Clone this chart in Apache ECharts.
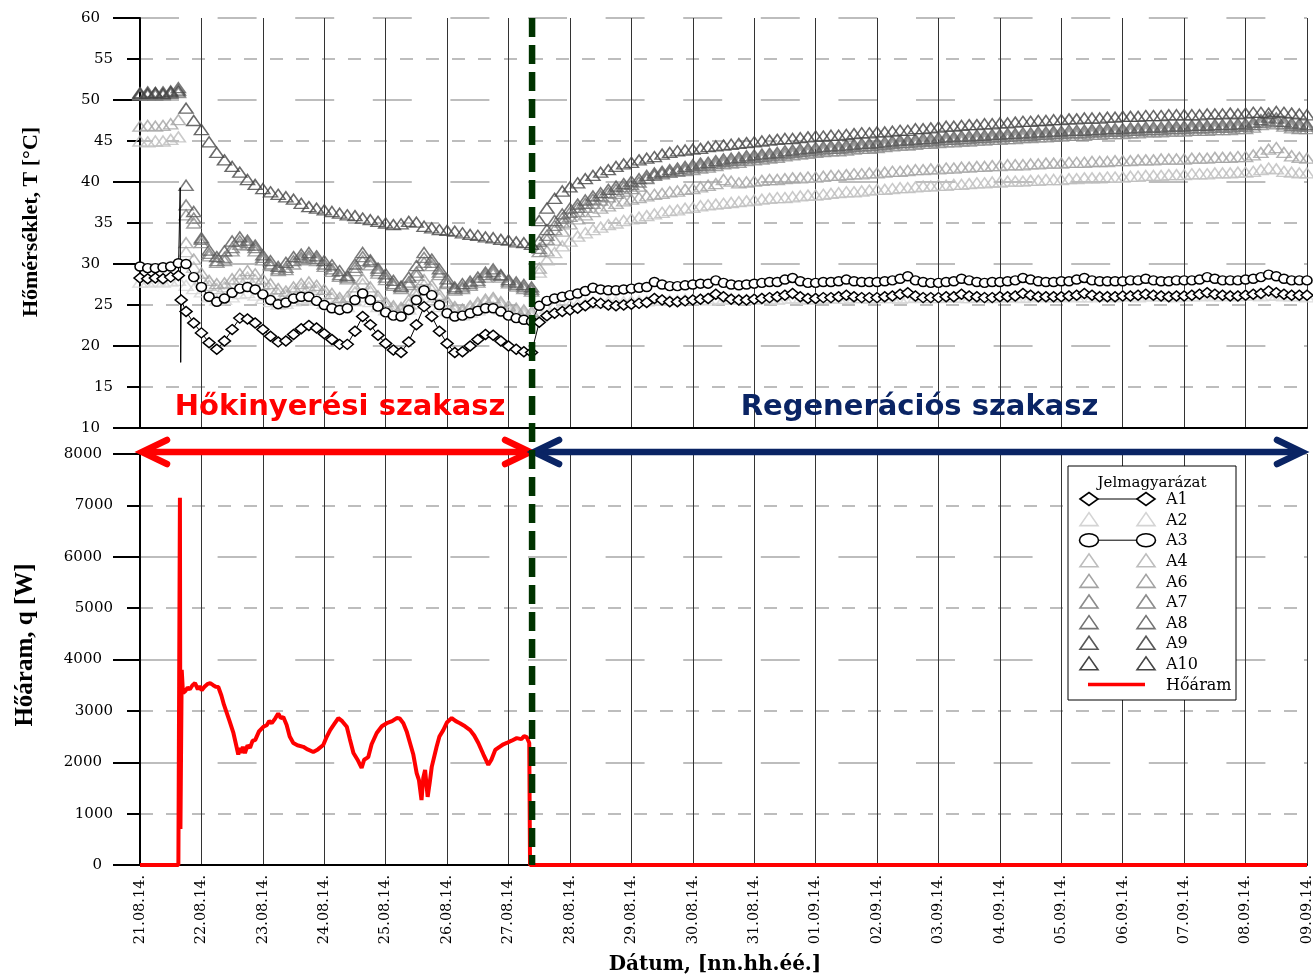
<!DOCTYPE html>
<html><head><meta charset="utf-8">
<script src="https://cdn.jsdelivr.net/npm/echarts/dist/echarts.min.js"></script>
<style>html,body{margin:0;padding:0;background:#fff}#c{width:1313px;height:977px}</style>
</head><body><div id="c"></div>
<script>
// ---------- tick labels ----------
const dateLabels = ['21.08.14.','22.08.14.','23.08.14.','24.08.14.','25.08.14.','26.08.14.','27.08.14.','28.08.14.','29.08.14.','30.08.14.','31.08.14.','01.09.14.','02.09.14.','03.09.14.','04.09.14.','05.09.14.','06.09.14.','07.09.14.','08.09.14.','09.09.14.'];

// ---------- sample times (hours from 21.08.14 00:00), one row per day ----------
const sampleHours = [
0,3,6,9,12,15,18,21,
24,27,30,33,36,39,42,45,
48,51,54,57,60,63,66,69,
72,75,78,81,84,87,90,93,
96,99,102,105,108,111,114,117,
120,123,126,129,132,135,138,141,
144,147,150,153,156,159,162,165,
168,171,174,177,180,183,186,189,
192,195,198,201,204,207,210,213,
216,219,222,225,228,231,234,237,
240,243,246,249,252,255,258,261,
264,267,270,273,276,279,282,285,
288,291,294,297,300,303,306,309,
312,315,318,321,324,327,330,333,
336,339,342,345,348,351,354,357,
360,363,366,369,372,375,378,381,
384,387,390,393,396,399,402,405,
408,411,414,417,420,423,426,429,
432,435,438,441,444,447,450,453,
456];

// ---------- temperature series [°C] ----------
const A1 = [
28.3,28.2,28.3,28.2,28.4,28.6,24.2,22.8,
21.6,20.4,19.6,20.6,22.0,23.4,23.3,22.8,
22.0,21.2,20.5,20.6,21.4,22.1,22.5,22.2,
21.5,20.8,20.2,20.2,21.8,23.6,22.6,21.3,
20.3,19.5,19.2,20.5,22.6,24.8,23.6,21.8,
20.3,19.2,19.3,20.0,20.8,21.4,21.3,20.6,
20.0,19.6,19.3,19.2,22.9,23.7,24.0,24.2,
24.4,24.6,24.9,25.3,25.2,25.0,24.9,25.0,
25.1,25.2,25.3,25.8,25.6,25.4,25.4,25.5,
25.6,25.7,25.8,26.3,26.0,25.7,25.6,25.6,
25.7,25.8,25.9,26.0,26.2,26.4,26.0,25.8,
25.8,25.9,25.9,26.0,26.2,26.0,25.9,25.9,
25.9,26.0,26.1,26.3,26.5,26.1,25.9,25.9,
25.9,26.0,26.0,26.3,26.1,26.0,25.9,25.9,
26.0,26.0,26.1,26.4,26.2,26.0,26.0,26.0,
26.0,26.1,26.2,26.4,26.2,26.0,26.0,26.0,
26.1,26.1,26.2,26.3,26.2,26.1,26.0,26.1,
26.1,26.2,26.3,26.5,26.3,26.2,26.1,26.1,
26.2,26.3,26.4,26.7,26.5,26.3,26.2,26.2,
26.2];
const A1_spikeHours = [15.7,15.9,16.1];
const A1_spikeValues = [39.3,18.0,25.6];

const A2 = [
27.8,27.8,27.9,27.8,27.9,28.0,27.4,27.0,
26.6,26.0,25.6,25.7,26.0,26.4,26.5,26.2,
25.8,25.4,25.1,25.2,25.5,25.8,25.9,25.6,
25.2,24.9,24.7,24.8,25.5,26.0,25.4,24.8,
24.4,24.1,24.0,24.5,25.2,26.0,25.5,24.8,
24.3,23.9,23.8,24.1,24.4,24.7,24.8,24.5,
24.2,24.0,23.8,23.6,24.2,24.6,24.9,25.0,
25.0,25.1,25.2,25.3,25.3,25.4,25.4,25.4,
25.5,25.5,25.5,25.6,25.6,25.6,25.6,25.7,
25.7,25.7,25.6,25.8,25.7,25.8,25.7,25.7,
25.7,25.8,25.8,25.7,25.8,25.9,25.8,25.7,
25.8,25.8,25.9,25.8,25.8,25.9,25.9,25.8,
25.9,25.9,25.9,25.8,25.9,26.0,25.9,25.9,
25.9,26.0,26.0,25.9,25.9,26.0,26.0,25.9,
26.0,26.0,26.0,25.9,26.0,26.1,26.0,26.0,
26.0,26.1,26.0,26.0,26.0,26.1,26.1,26.0,
26.1,26.1,26.0,26.1,26.1,26.1,26.1,26.0,
26.1,26.1,26.1,26.2,26.1,26.1,26.2,26.1,
26.2,26.2,26.1,26.2,26.2,26.1,26.1,26.1,
26.0];

const A3 = [
29.7,29.5,29.5,29.6,29.7,30.1,30.0,28.4,
27.2,26.0,25.4,25.8,26.5,27.0,27.2,26.9,
26.3,25.6,25.1,25.3,25.8,26.0,26.0,25.5,
25.0,24.6,24.4,24.6,25.6,26.4,25.6,24.8,
24.1,23.7,23.6,24.4,25.6,26.8,26.2,25.0,
24.0,23.6,23.7,24.0,24.3,24.6,24.6,24.2,
23.7,23.4,23.2,23.0,24.9,25.5,25.8,26.0,
26.2,26.4,26.7,27.1,26.9,26.8,26.8,26.9,
27.0,27.1,27.2,27.8,27.5,27.3,27.3,27.4,
27.5,27.6,27.6,28.0,27.7,27.5,27.4,27.5,
27.6,27.7,27.8,27.8,28.1,28.3,27.9,27.7,
27.7,27.8,27.8,27.9,28.1,27.9,27.8,27.8,
27.8,27.9,28.0,28.2,28.5,28.0,27.8,27.7,
27.7,27.8,27.9,28.2,28.0,27.8,27.7,27.8,
27.8,27.9,28.0,28.3,28.1,27.9,27.8,27.8,
27.9,27.9,28.1,28.3,28.0,27.9,27.9,27.9,
27.9,28.0,28.0,28.2,28.0,27.9,27.9,28.0,
28.0,28.0,28.1,28.4,28.2,28.0,28.0,28.0,
28.1,28.2,28.4,28.7,28.5,28.2,28.0,28.0,
28.0];

const A4 = [
45.0,44.9,45.0,45.0,45.2,45.5,31.5,29.6,
28.2,27.4,27.0,27.2,27.6,28.1,28.4,28.1,
27.5,26.9,26.4,26.3,26.7,27.1,27.2,26.9,
26.4,25.9,25.5,25.6,26.6,27.6,26.7,25.7,
25.0,24.6,24.4,25.1,26.2,27.5,26.9,25.9,
25.1,24.5,24.2,24.6,25.0,25.4,25.6,25.1,
24.6,24.3,24.1,23.9,29.0,30.5,31.4,32.2,
32.8,33.4,33.8,34.2,34.5,34.8,35.0,35.3,
35.5,35.7,35.9,36.1,36.3,36.5,36.6,36.8,
36.9,37.1,37.2,37.3,37.4,37.5,37.6,37.7,
37.8,37.9,38.0,38.1,38.1,38.2,38.3,38.4,
38.4,38.5,38.6,38.7,38.8,38.8,38.9,39.0,
39.1,39.1,39.2,39.3,39.3,39.4,39.5,39.5,
39.6,39.6,39.7,39.7,39.8,39.9,39.9,40.0,
40.0,40.1,40.1,40.1,40.2,40.2,40.3,40.3,
40.3,40.4,40.4,40.5,40.5,40.5,40.6,40.6,
40.6,40.7,40.7,40.8,40.8,40.8,40.9,40.9,
40.9,41.0,41.0,41.0,41.1,41.1,41.1,41.2,
41.2,41.3,41.5,41.7,41.6,41.3,41.2,41.1,
41.1];

const A6 = [
46.8,46.9,46.8,46.9,47.1,47.6,32.6,30.6,
28.9,28.0,27.6,27.7,28.2,28.8,29.2,28.8,
28.2,27.6,27.0,26.7,27.2,27.6,27.8,27.4,
26.9,26.4,25.9,26.0,27.2,28.2,27.2,26.1,
25.4,24.9,24.7,25.6,26.8,28.1,27.4,26.3,
25.5,24.8,24.5,24.9,25.3,25.7,25.9,25.4,
24.9,24.6,24.4,24.2,29.5,31.6,32.9,34.0,
34.9,35.5,36.0,36.4,36.8,37.1,37.4,37.7,
37.9,38.1,38.3,38.5,38.6,38.8,38.9,39.1,
39.2,39.4,39.6,39.8,40.3,40.1,39.9,40.0,
40.1,40.2,40.3,40.3,40.4,40.5,40.5,40.6,
40.6,40.7,40.8,40.8,40.9,41.0,41.0,41.1,
41.1,41.2,41.3,41.3,41.4,41.5,41.5,41.6,
41.6,41.7,41.7,41.8,41.8,41.9,41.9,42.0,
42.0,42.1,42.1,42.1,42.2,42.2,42.3,42.3,
42.3,42.4,42.4,42.4,42.5,42.5,42.5,42.6,
42.6,42.6,42.7,42.7,42.7,42.8,42.8,42.8,
42.8,42.9,42.9,42.9,43.0,43.0,43.0,43.1,
43.1,43.3,43.6,44.0,44.2,43.6,43.2,43.0,
42.9];

const A7 = [
50.7,50.6,50.7,50.6,50.8,50.9,36.0,35.0,
32.6,31.0,30.2,30.4,31.6,32.4,32.3,31.6,
30.5,29.8,29.2,29.3,30.0,30.5,30.7,30.4,
29.7,29.1,28.5,28.2,29.2,30.4,29.9,28.9,
28.1,27.4,27.0,27.5,28.6,30.2,29.8,28.7,
27.6,26.8,27.0,27.4,27.8,28.4,28.8,28.4,
27.7,27.3,27.0,26.7,31.5,33.0,34.2,35.1,
35.8,36.4,36.9,37.4,37.8,38.2,38.6,38.9,
39.2,39.5,40.5,40.9,41.1,41.2,41.3,41.4,
41.5,41.7,41.8,42.0,42.2,42.3,42.4,42.6,
42.7,42.8,42.9,43.0,43.2,43.3,43.4,43.5,
43.6,43.7,43.8,43.8,43.9,44.0,44.1,44.1,
44.2,44.3,44.4,44.5,44.5,44.6,44.7,44.7,
44.8,44.9,44.9,45.0,45.0,45.1,45.1,45.2,
45.2,45.3,45.3,45.4,45.4,45.5,45.5,45.6,
45.6,45.7,45.7,45.7,45.8,45.8,45.9,45.9,
45.9,46.0,46.0,46.1,46.1,46.1,46.2,46.2,
46.2,46.3,46.3,46.3,46.4,46.4,46.4,46.5,
46.5,46.7,47.0,47.2,47.1,46.8,46.6,46.5,
46.5];

const A8 = [
50.6,50.7,50.6,50.7,50.8,51.0,37.2,35.6,
33.0,31.3,30.4,30.8,32.0,32.8,32.6,32.0,
30.8,30.0,29.4,29.6,30.4,30.8,31.0,30.7,
30.0,29.4,28.7,28.4,29.6,30.9,30.3,29.2,
28.4,27.6,27.2,27.8,29.0,30.8,30.2,29.0,
27.8,27.0,27.2,27.6,28.0,28.7,29.1,28.6,
27.9,27.5,27.2,26.9,31.9,33.5,34.7,35.6,
36.3,36.9,37.4,37.9,38.3,38.7,39.1,39.4,
39.7,40.0,40.4,40.8,41.0,41.2,41.4,41.6,
41.8,42.0,42.1,42.3,42.5,42.6,42.7,42.9,
43.0,43.1,43.2,43.3,43.5,43.6,43.7,43.8,
43.9,44.0,44.1,44.1,44.2,44.3,44.4,44.4,
44.5,44.6,44.7,44.8,44.8,44.9,45.0,45.0,
45.1,45.2,45.2,45.3,45.3,45.4,45.4,45.5,
45.5,45.6,45.6,45.7,45.7,45.8,45.8,45.9,
45.9,46.0,46.0,46.0,46.1,46.1,46.2,46.2,
46.2,46.3,46.3,46.4,46.4,46.4,46.5,46.5,
46.5,46.6,46.6,46.6,46.7,46.7,46.7,46.8,
46.8,47.0,47.3,47.5,47.4,47.1,46.9,46.8,
46.8];

const A9 = [
50.9,51.0,50.9,51.0,51.1,51.5,39.6,36.4,
33.2,31.7,30.9,31.6,32.8,33.3,32.9,32.3,
31.1,30.4,29.7,30.2,30.9,31.2,31.4,31.0,
30.4,29.9,29.2,28.6,30.0,31.4,30.5,29.5,
28.8,28.0,27.3,28.4,29.8,31.4,30.6,29.4,
28.2,27.2,27.6,27.9,28.4,29.0,29.4,28.7,
28.1,27.8,27.5,27.2,32.8,34.2,35.3,36.1,
36.8,37.3,37.8,38.3,38.7,39.1,39.5,39.8,
40.1,40.4,40.8,41.1,41.3,41.5,41.7,41.9,
42.1,42.3,42.4,42.6,42.8,42.9,43.0,43.2,
43.3,43.4,43.5,43.6,43.8,43.9,44.0,44.1,
44.2,44.3,44.4,44.4,44.5,44.6,44.7,44.7,
44.8,44.9,45.0,45.1,45.1,45.2,45.3,45.3,
45.4,45.5,45.5,45.6,45.6,45.7,45.7,45.8,
45.8,45.9,45.9,46.0,46.0,46.1,46.1,46.2,
46.2,46.3,46.3,46.3,46.4,46.4,46.5,46.5,
46.5,46.6,46.6,46.7,46.7,46.7,46.8,46.8,
46.8,46.9,46.9,46.9,47.0,47.0,47.0,47.1,
47.1,47.3,47.6,47.9,47.8,47.4,47.2,47.1,
47.0];

const A10 = [
50.8,50.8,50.9,50.8,51.0,51.2,49.0,47.5,
46.4,44.9,43.6,42.7,41.9,41.2,40.3,39.7,
39.2,38.8,38.5,38.2,37.9,37.4,37.0,36.8,
36.6,36.4,36.2,36.0,35.9,35.6,35.4,35.2,
35.0,34.8,34.9,35.2,35.1,34.6,34.4,34.2,
34.1,34.0,33.8,33.6,33.5,33.3,33.2,33.0,
32.9,32.7,32.6,32.4,35.3,36.8,38.0,38.9,
39.4,39.9,40.4,40.8,41.2,41.5,41.9,42.2,
42.4,42.7,42.9,43.1,43.4,43.6,43.8,43.9,
44.0,44.1,44.3,44.4,44.5,44.6,44.7,44.8,
44.9,45.0,45.1,45.2,45.3,45.3,45.4,45.5,
45.6,45.6,45.7,45.7,45.8,45.9,46.0,46.0,
46.1,46.1,46.2,46.3,46.3,46.5,46.5,46.6,
46.7,46.8,46.8,46.9,47.0,47.0,47.1,47.1,
47.2,47.2,47.3,47.4,47.4,47.5,47.5,47.6,
47.6,47.7,47.7,47.8,47.8,47.8,47.9,47.9,
48.0,48.0,48.0,48.1,48.1,48.1,48.2,48.2,
48.2,48.2,48.2,48.3,48.3,48.3,48.4,48.3,
48.4,48.5,48.5,48.4,48.6,48.5,48.4,48.3,
48.2];

// ---------- heat flow [W] ----------
const heatHours = [0,15.0,15.6,15.8,16.3,16.8,17.6,18.6,19.5,20.5,21.5,22.6,23.3,24.1,25.2,26.3,27.4,28.6,29.6,30.6,31.8,32.8,33.9,35.0,36.5,37.5,38.4,39.0,39.5,40.2,41.0,42.0,43.0,44.0,45.0,46.5,48.2,49.5,50.5,51.5,52.8,54.0,55.0,56.0,57.3,58.5,59.9,61.5,63.8,65.5,67.7,69.5,71.6,73.0,74.3,76.0,77.5,79.0,80.8,82.0,83.4,85.0,86.0,86.6,87.6,89.2,90.5,92.5,94.5,96.4,98.5,100.3,101.5,102.9,104.2,105.5,106.8,108.1,109.0,110.0,110.7,111.4,112.4,113.2,114.0,115.9,117.0,118.5,120.0,121.8,123.4,125.0,127.0,129.0,130.6,132.2,134.2,136.1,137.3,138.8,140.5,142.0,143.3,145.2,147.2,149.0,150.1,151.1,152.1,152.4,456];
const heatValues = [0,0,7150,700,3800,3350,3380,3450,3420,3500,3540,3420,3480,3400,3470,3520,3540,3500,3470,3465,3300,3120,2960,2800,2570,2350,2150,2280,2180,2300,2180,2330,2280,2420,2430,2600,2690,2720,2800,2760,2850,2950,2860,2880,2725,2500,2375,2330,2300,2250,2200,2250,2335,2500,2625,2750,2860,2800,2690,2450,2180,2050,1950,1890,2050,2100,2350,2570,2700,2760,2800,2860,2850,2760,2600,2375,2150,1790,1650,1265,1700,1850,1325,1600,1910,2300,2500,2625,2780,2860,2800,2760,2700,2625,2520,2375,2150,1950,2050,2240,2300,2350,2375,2420,2470,2450,2510,2490,2375,0,0];

const phaseEndHour = 153.2;

// ---------- styles ----------
const triSeries = [
  {name:'A2', vals:A2, color:'#d4d4d4'},
  {name:'A4', vals:A4, color:'#bdbdbd'},
  {name:'A6', vals:A6, color:'#a3a3a3'},
  {name:'A7', vals:A7, color:'#8c8c8c'},
  {name:'A8', vals:A8, color:'#737373'},
  {name:'A9', vals:A9, color:'#595959'},
  {name:'A10', vals:A10, color:'#454545'}
];
const pairs = vals => vals.map((v,i)=>[sampleHours[i], v]);

const series = [];
triSeries.forEach(s => series.push({
  name:s.name, type:'scatter', xAxisIndex:0, yAxisIndex:0, clip:false, silent:true,
  symbol:'triangle', symbolSize:[14,10],
  itemStyle:{color:'rgba(255,255,255,0)', borderColor:s.color, borderWidth:1.5},
  data:pairs(s.vals)
}));
series.push({
  name:'A3', type:'line', xAxisIndex:0, yAxisIndex:0, clip:false, silent:true,
  symbol:'circle', symbolSize:[10,9], showSymbol:true, showAllSymbol:true,
  lineStyle:{color:'#000', width:1}, itemStyle:{color:'#fff', borderColor:'#000', borderWidth:1.5},
  data:pairs(A3)
});
const a1Data = pairs(A1);
a1Data.splice(6, 0, ...A1_spikeHours.map((h,i)=>({value:[h, A1_spikeValues[i]], symbol: i<2 ? 'none' : 'diamond'})));
series.push({
  name:'A1', type:'line', xAxisIndex:0, yAxisIndex:0, clip:false, silent:true,
  symbol:'diamond', symbolSize:[12,10], showSymbol:true, showAllSymbol:true,
  lineStyle:{color:'#000', width:1}, itemStyle:{color:'#fff', borderColor:'#000', borderWidth:1.5},
  data:a1Data
});
series.push({
  name:'Hőáram', type:'line', xAxisIndex:1, yAxisIndex:2, clip:false, silent:true,
  symbol:'none', lineStyle:{color:'#ff0000', width:4},
  data:heatHours.map((h,i)=>[h, heatValues[i]])
});

const serifFamily = '"DejaVu Serif", "Liberation Serif", serif';
const majorDash = {color:'#a8a8a8', width:1.5, type:[39,38.6]};
const minorDash = {color:'#a8a8a8', width:1.5, type:[13,13]};
const tickStyle = {color:'#000', width:2};
const labelFont = {color:'#000', fontFamily:serifFamily, fontSize:15};

function xAxis(gi, withLabels){
  return {
    type:'value', gridIndex:gi, min:0, max:456, interval:24,
    axisLine:{show:true, onZero:false, lineStyle:{color:'#000', width:2}},
    axisTick:{show:false},
    splitLine:{show:true, lineStyle:{color:'#333333', width:1}},
    axisLabel: withLabels ? {show:true, rotate:90, margin:10, color:'#000', fontFamily:serifFamily, fontSize:14.5,
      showMinLabel:true, showMaxLabel:true, hideOverlap:false,
      formatter: v => dateLabels[Math.round(v/24)] || ''} : {show:false}
  };
}
function yMajor(gi, min, max, interval, margin){
  return {
    type:'value', gridIndex:gi, position:'left', min, max, interval,
    axisLine:{show:true, lineStyle:{color:'#000', width:2}},
    axisTick:{show:true, length:27, lineStyle:tickStyle},
    minorTick:{show:true, splitNumber:2, length:13, lineStyle:tickStyle},
    splitLine:{show:true, lineStyle:majorDash},
    minorSplitLine:{show:true, lineStyle:minorDash},
    axisLabel:Object.assign({margin, formatter: v => String(v)}, labelFont)
  };
}
function yMinor(gi, min, max, interval){
  return {
    type:'value', gridIndex:gi, position:'left', min, max, interval, offset:0,
    axisLine:{show:false}, axisTick:{show:false}, splitLine:{show:false},
    axisLabel:Object.assign({margin:27, formatter: v => (Math.round(v/interval) % 2 ? String(v) : '')}, labelFont)
  };
}

const option = {
  animation:false,
  backgroundColor:'#fff',
  grid:[
    {left:140, top:18, width:1167, height:410, outerBoundsMode:'none'},
    {left:140, top:454, width:1167, height:411, outerBoundsMode:'none'}
  ],
  xAxis:[xAxis(0,false), xAxis(1,true)],
  yAxis:[yMajor(0,10,60,10,40), yMinor(0,10,60,5), yMajor(1,0,8000,2000,38), yMinor(1,0,8000,1000)],
  series
};

const chart = echarts.init(document.getElementById('c'), null, {renderer:'canvas'});
chart.setOption(option);

// ---------- annotations ----------
const px = h => chart.convertToPixel({xAxisIndex:1}, h);
const pyT = v => chart.convertToPixel({yAxisIndex:0}, v);
const pyQ = v => chart.convertToPixel({yAxisIndex:2}, v);
const gX = px(phaseEndHour);
const xStart = px(0), xEnd = px(456);
const topY = pyT(60), botY = pyQ(0);
const ay = pyQ(8000) - 2;
const red = '#ff0000', navy = '#0a2464';

function arrow(x0, x1, color){
  const s = {stroke:color, lineWidth:6.5, lineCap:'round', lineJoin:'miter', fill:null};
  return [
    {type:'line', z:50, shape:{x1:x0+3, y1:ay, x2:x1-3, y2:ay}, style:Object.assign({}, s, {lineCap:'butt'})},
    {type:'polyline', z:50, shape:{points:[[x0+27, ay-12],[x0+2, ay],[x0+27, ay+12]]}, style:s},
    {type:'polyline', z:50, shape:{points:[[x1-27, ay-12],[x1-2, ay],[x1-27, ay+12]]}, style:s}
  ];
}

const g = [];
g.push(...arrow(xStart, gX, red));
g.push(...arrow(gX, xEnd - 3, navy));
g.push({type:'line', z:60, shape:{x1:gX, y1:topY, x2:gX, y2:botY},
  style:{stroke:'#003300', lineWidth:6.5, lineDash:[19,8]}});
g.push({type:'text', z:55, x:(xStart+gX)/2 + 4, y:407,
  style:{text:'Hőkinyerési szakasz', font:'bold 29px "DejaVu Sans"', fill:red, textAlign:'center', textVerticalAlign:'middle'}});
g.push({type:'text', z:55, x:(gX+xEnd)/2 + 0, y:407,
  style:{text:'Regenerációs szakasz', font:'bold 29px "DejaVu Sans"', fill:navy, textAlign:'center', textVerticalAlign:'middle'}});
// axis titles
g.push({type:'text', z:55, x:31, y:222, rotation:Math.PI/2,
  style:{text:'Hőmérséklet, T [°C]', font:'bold 22px "Liberation Serif"', fill:'#000', textAlign:'center', textVerticalAlign:'middle'}});
g.push({type:'text', z:55, x:26, y:645, rotation:Math.PI/2,
  style:{text:'Hőáram, q [W]', font:'bold 25px "Liberation Serif"', fill:'#000', textAlign:'center', textVerticalAlign:'middle'}});
g.push({type:'text', z:55, x:715, y:965,
  style:{text:'Dátum, [nn.hh.éé.]', font:'bold 20px "DejaVu Serif"', fill:'#000', textAlign:'center', textVerticalAlign:'middle'}});

// legend box
const lgX = 1068, lgY = 466, lgW = 168, lgH = 234;
g.push({type:'rect', z:70, shape:{x:lgX, y:lgY, width:lgW, height:lgH}, style:{fill:'#fff', stroke:'#000', lineWidth:1}});
g.push({type:'text', z:71, x:1152, y:483, style:{text:'Jelmagyarázat', font:'15px "DejaVu Serif"', fill:'#000', textAlign:'center', textVerticalAlign:'middle'}});
const legendRows = [
  {name:'A1', kind:'diamond', color:'#000'},
  {name:'A2', kind:'tri', color:'#d4d4d4'},
  {name:'A3', kind:'circle', color:'#000'},
  {name:'A4', kind:'tri', color:'#bdbdbd'},
  {name:'A6', kind:'tri', color:'#a3a3a3'},
  {name:'A7', kind:'tri', color:'#8c8c8c'},
  {name:'A8', kind:'tri', color:'#737373'},
  {name:'A9', kind:'tri', color:'#595959'},
  {name:'A10', kind:'tri', color:'#454545'},
  {name:'Hőáram', kind:'line', color:red}
];
const mL = 1089, mR = 1146;
legendRows.forEach((r, i) => {
  const cy = 499 + i * 20.6;
  const st = {fill:'#fff', stroke:r.color, lineWidth:1.6};
  if (r.kind === 'line') {
    g.push({type:'line', z:71, shape:{x1:1088, y1:cy, x2:1145, y2:cy}, style:{stroke:red, lineWidth:3.5}});
  } else {
    if (r.kind !== 'tri') g.push({type:'line', z:71, shape:{x1:mL, y1:cy, x2:mR, y2:cy}, style:{stroke:'#000', lineWidth:1}});
    [mL, mR].forEach(cx => {
      if (r.kind === 'tri') g.push({type:'polygon', z:72, shape:{points:[[cx-9, cy+6],[cx+9, cy+6],[cx, cy-7]]}, style:Object.assign({}, st, {fill:null})});
      else if (r.kind === 'diamond') g.push({type:'polygon', z:72, shape:{points:[[cx-9, cy],[cx, cy-6.5],[cx+9, cy],[cx, cy+6.5]]}, style:st});
      else g.push({type:'ellipse', z:72, shape:{cx, cy, rx:9.5, ry:6.5}, style:st});
    });
  }
  g.push({type:'text', z:72, x:1166, y:cy + 1, style:{text:r.name, font:'16px "DejaVu Serif"', fill:'#000', textAlign:'left', textVerticalAlign:'middle'}});
});

chart.setOption({graphic:g});
</script>
</body></html>
